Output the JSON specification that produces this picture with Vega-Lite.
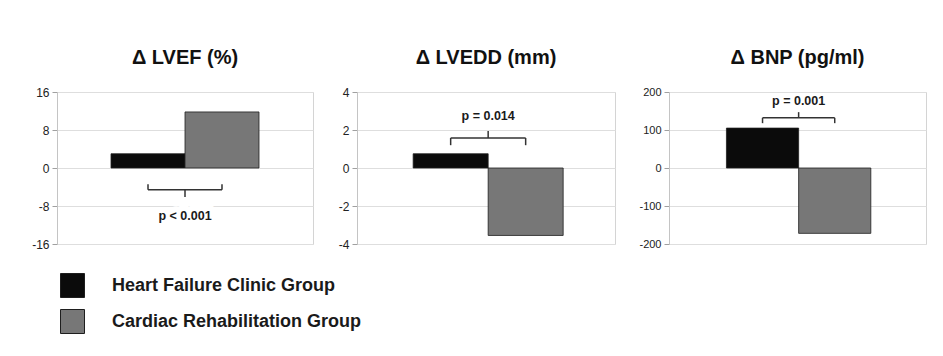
{
  "$schema": "https://vega.github.io/schema/vega-lite/v6.json",
  "background": "white",
  "autosize": {"type": "pad"},
  "padding": {"left": 31, "top": 47, "right": 5, "bottom": 5},
  "spacing": 44,
  "bounds": "flush",
  "datasets": {
    "changes": [
      {"measure": "LVEF", "group": "Heart Failure Clinic Group", "change": 3.0},
      {"measure": "LVEF", "group": "Cardiac Rehabilitation Group", "change": 11.8},
      {"measure": "LVEDD", "group": "Heart Failure Clinic Group", "change": 0.75},
      {"measure": "LVEDD", "group": "Cardiac Rehabilitation Group", "change": -3.55},
      {"measure": "BNP", "group": "Heart Failure Clinic Group", "change": 105},
      {"measure": "BNP", "group": "Cardiac Rehabilitation Group", "change": -172}
    ],
    "tests": [
      {"measure": "LVEF", "from": "Heart Failure Clinic Group", "to": "Cardiac Rehabilitation Group", "bracket": -4.6, "tips": -3.4, "stem": -6.1, "label_at": -10.1, "p": "p < 0.001"},
      {"measure": "LVEDD", "from": "Heart Failure Clinic Group", "to": "Cardiac Rehabilitation Group", "bracket": 1.58, "tips": 1.2, "stem": 1.95, "label_at": 2.73, "p": "p = 0.014"},
      {"measure": "BNP", "from": "Heart Failure Clinic Group", "to": "Cardiac Rehabilitation Group", "bracket": 132, "tips": 118, "stem": 147, "label_at": 176, "p": "p = 0.001"}
    ]
  },
  "config": {
    "font": "Liberation Sans",
    "view": {"stroke": "#d4d4d4", "strokeWidth": 1},
    "title": {"fontSize": 20, "fontWeight": "bold", "color": "#111111", "offset": 18, "anchor": "middle"},
    "axis": {
      "gridColor": "#dedede",
      "domainColor": "#c4c4c4",
      "tickColor": "#a0a0a0",
      "tickSize": 5,
      "labelColor": "#222222",
      "labelFontSize": 12,
      "labelPadding": 3,
      "labelExpr": "datum.value < 0 ? '-' + abs(datum.value) : '' + datum.value",
      "title": null
    }
  },
  "hconcat": [
    {
      "width": 256,
      "height": 152,
      "title": "Δ LVEF (%)",
      "layer": [
        {
          "data": {"name": "changes"},
          "transform": [{"filter": "datum.measure === 'LVEF'"}],
          "mark": {"type": "bar", "stroke": "#1e1e1e", "strokeWidth": 0.8},
          "encoding": {
            "x": {"field": "group", "type": "nominal", "axis": null,
                  "scale": {"domain": ["Heart Failure Clinic Group", "Cardiac Rehabilitation Group"], "paddingInner": 0, "paddingOuter": 0.73}},
            "y": {"field": "change", "type": "quantitative",
                  "scale": {"domain": [-16, 16], "nice": false},
                  "axis": {"values": [-16, -8, 0, 8, 16]}},
            "color": {"field": "group", "type": "nominal",
                      "scale": {"domain": ["Heart Failure Clinic Group", "Cardiac Rehabilitation Group"], "range": ["#0b0b0b", "#777777"]},
                      "legend": {"orient": "none", "legendX": 3, "legendY": 181, "title": null, "direction": "vertical",
                                 "symbolType": "square", "symbolSize": 576, "symbolStrokeColor": "#1e1e1e", "symbolStrokeWidth": 1, "symbolOpacity": 1,
                                 "labelFontSize": 18, "labelFontWeight": "bold", "labelColor": "#1a1a1a", "labelOffset": 27, "rowPadding": 7, "labelLimit": 400}}
          }
        },
        {
          "data": {"name": "tests"},
          "transform": [{"filter": "datum.measure === 'LVEF'"}],
          "mark": {"type": "rule", "color": "#333333", "strokeWidth": 1.5},
          "encoding": {
            "x": {"field": "from", "type": "nominal", "bandPosition": 0.5},
            "x2": {"field": "to"},
            "y": {"field": "bracket", "type": "quantitative", "axis": {"values": [-16, -8, 0, 8, 16]}}
          }
        },
        {
          "data": {"name": "tests"},
          "transform": [{"filter": "datum.measure === 'LVEF'"}, {"fold": ["from", "to"], "as": ["end", "grp"]}],
          "mark": {"type": "rule", "color": "#333333", "strokeWidth": 1.5},
          "encoding": {
            "x": {"field": "grp", "type": "nominal", "bandPosition": 0.5},
            "y": {"field": "bracket", "type": "quantitative", "axis": {"values": [-16, -8, 0, 8, 16]}},
            "y2": {"field": "tips"}
          }
        },
        {
          "data": {"name": "tests"},
          "transform": [{"filter": "datum.measure === 'LVEF'"}],
          "mark": {"type": "rule", "color": "#333333", "strokeWidth": 1.5},
          "encoding": {
            "x": {"field": "to", "type": "nominal", "bandPosition": 0},
            "y": {"field": "bracket", "type": "quantitative", "axis": {"values": [-16, -8, 0, 8, 16]}},
            "y2": {"field": "stem"}
          }
        },
        {
          "data": {"name": "tests"},
          "transform": [{"filter": "datum.measure === 'LVEF'"}],
          "mark": {"type": "text", "fontSize": 12.5, "fontWeight": "bold", "color": "white", "stroke": "white", "strokeWidth": 12, "strokeJoin": "round"},
          "encoding": {
            "x": {"field": "to", "type": "nominal", "bandPosition": 0},
            "y": {"field": "label_at", "type": "quantitative", "axis": {"values": [-16, -8, 0, 8, 16]}},
            "text": {"field": "p"}
          }
        },
        {
          "data": {"name": "tests"},
          "transform": [{"filter": "datum.measure === 'LVEF'"}],
          "mark": {"type": "text", "fontSize": 12.5, "fontWeight": "bold", "color": "#1a1a1a"},
          "encoding": {
            "x": {"field": "to", "type": "nominal", "bandPosition": 0},
            "y": {"field": "label_at", "type": "quantitative", "axis": {"values": [-16, -8, 0, 8, 16]}},
            "text": {"field": "p"}
          }
        }
      ]
    },
    {
      "spacing": 54,
      "bounds": "flush",
      "hconcat": [
        {
          "width": 258,
          "height": 152,
          "title": "Δ LVEDD (mm)",
          "layer": [
            {
              "data": {"name": "changes"},
              "transform": [{"filter": "datum.measure === 'LVEDD'"}],
              "mark": {"type": "bar", "stroke": "#1e1e1e", "strokeWidth": 0.8},
              "encoding": {
                "x": {"field": "group", "type": "nominal", "axis": null,
                      "scale": {"domain": ["Heart Failure Clinic Group", "Cardiac Rehabilitation Group"], "paddingInner": 0, "paddingOuter": 0.72, "align": 0.52}},
                "y": {"field": "change", "type": "quantitative",
                      "scale": {"domain": [-4, 4], "nice": false},
                      "axis": {"values": [-4, -2, 0, 2, 4]}},
                "color": {"field": "group", "type": "nominal",
                          "scale": {"domain": ["Heart Failure Clinic Group", "Cardiac Rehabilitation Group"], "range": ["#0b0b0b", "#777777"]},
                          "legend": null}
              }
            },
            {
              "data": {"name": "tests"},
              "transform": [{"filter": "datum.measure === 'LVEDD'"}],
              "mark": {"type": "rule", "color": "#333333", "strokeWidth": 1.5},
              "encoding": {
                "x": {"field": "from", "type": "nominal", "bandPosition": 0.5},
                "x2": {"field": "to"},
                "y": {"field": "bracket", "type": "quantitative", "axis": {"values": [-4, -2, 0, 2, 4]}}
              }
            },
            {
              "data": {"name": "tests"},
              "transform": [{"filter": "datum.measure === 'LVEDD'"}, {"fold": ["from", "to"], "as": ["end", "grp"]}],
              "mark": {"type": "rule", "color": "#333333", "strokeWidth": 1.5},
              "encoding": {
                "x": {"field": "grp", "type": "nominal", "bandPosition": 0.5},
                "y": {"field": "bracket", "type": "quantitative", "axis": {"values": [-4, -2, 0, 2, 4]}},
                "y2": {"field": "tips"}
              }
            },
            {
              "data": {"name": "tests"},
              "transform": [{"filter": "datum.measure === 'LVEDD'"}],
              "mark": {"type": "rule", "color": "#333333", "strokeWidth": 1.5},
              "encoding": {
                "x": {"field": "to", "type": "nominal", "bandPosition": 0},
                "y": {"field": "bracket", "type": "quantitative", "axis": {"values": [-4, -2, 0, 2, 4]}},
                "y2": {"field": "stem"}
              }
            },
            {
              "data": {"name": "tests"},
              "transform": [{"filter": "datum.measure === 'LVEDD'"}],
              "mark": {"type": "text", "fontSize": 12.5, "fontWeight": "bold", "color": "#1a1a1a"},
              "encoding": {
                "x": {"field": "to", "type": "nominal", "bandPosition": 0},
                "y": {"field": "label_at", "type": "quantitative", "axis": {"values": [-4, -2, 0, 2, 4]}},
                "text": {"field": "p"}
              }
            }
          ]
        },
        {
          "width": 257,
          "height": 152,
          "title": "Δ BNP (pg/ml)",
          "layer": [
            {
              "data": {"name": "changes"},
              "transform": [{"filter": "datum.measure === 'BNP'"}],
              "mark": {"type": "bar", "stroke": "#1e1e1e", "strokeWidth": 0.8},
              "encoding": {
                "x": {"field": "group", "type": "nominal", "axis": null,
                      "scale": {"domain": ["Heart Failure Clinic Group", "Cardiac Rehabilitation Group"], "paddingInner": 0, "paddingOuter": 0.78, "align": 0.51}},
                "y": {"field": "change", "type": "quantitative",
                      "scale": {"domain": [-200, 200], "nice": false},
                      "axis": {"values": [-200, -100, 0, 100, 200], "labelFontSize": 11}},
                "color": {"field": "group", "type": "nominal",
                          "scale": {"domain": ["Heart Failure Clinic Group", "Cardiac Rehabilitation Group"], "range": ["#0b0b0b", "#777777"]},
                          "legend": null}
              }
            },
            {
              "data": {"name": "tests"},
              "transform": [{"filter": "datum.measure === 'BNP'"}],
              "mark": {"type": "rule", "color": "#333333", "strokeWidth": 1.5},
              "encoding": {
                "x": {"field": "from", "type": "nominal", "bandPosition": 0.5},
                "x2": {"field": "to"},
                "y": {"field": "bracket", "type": "quantitative", "axis": {"values": [-200, -100, 0, 100, 200], "labelFontSize": 11}}
              }
            },
            {
              "data": {"name": "tests"},
              "transform": [{"filter": "datum.measure === 'BNP'"}, {"fold": ["from", "to"], "as": ["end", "grp"]}],
              "mark": {"type": "rule", "color": "#333333", "strokeWidth": 1.5},
              "encoding": {
                "x": {"field": "grp", "type": "nominal", "bandPosition": 0.5},
                "y": {"field": "bracket", "type": "quantitative", "axis": {"values": [-200, -100, 0, 100, 200], "labelFontSize": 11}},
                "y2": {"field": "tips"}
              }
            },
            {
              "data": {"name": "tests"},
              "transform": [{"filter": "datum.measure === 'BNP'"}],
              "mark": {"type": "rule", "color": "#333333", "strokeWidth": 1.5},
              "encoding": {
                "x": {"field": "to", "type": "nominal", "bandPosition": 0},
                "y": {"field": "bracket", "type": "quantitative", "axis": {"values": [-200, -100, 0, 100, 200], "labelFontSize": 11}},
                "y2": {"field": "stem"}
              }
            },
            {
              "data": {"name": "tests"},
              "transform": [{"filter": "datum.measure === 'BNP'"}],
              "mark": {"type": "text", "fontSize": 12.5, "fontWeight": "bold", "color": "#1a1a1a"},
              "encoding": {
                "x": {"field": "to", "type": "nominal", "bandPosition": 0},
                "y": {"field": "label_at", "type": "quantitative", "axis": {"values": [-200, -100, 0, 100, 200], "labelFontSize": 11}},
                "text": {"field": "p"}
              }
            }
          ]
        }
      ]
    }
  ]
}
